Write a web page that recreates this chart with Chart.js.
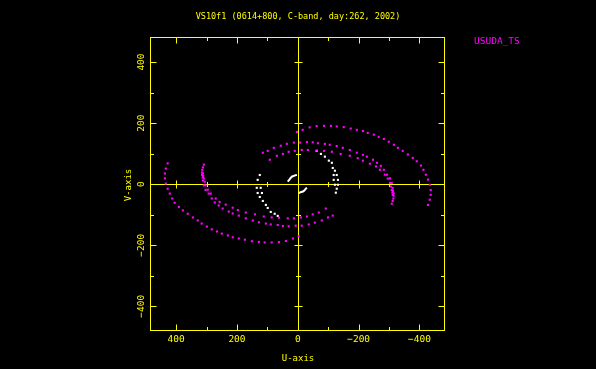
<!DOCTYPE html>
<html>
<head>
<meta charset="utf-8">
<title>VS10f1 uv coverage</title>
<script src="https://cdn.jsdelivr.net/npm/chart.js@4.4.0/dist/chart.umd.min.js"></script>
<style>
  html, body { margin: 0; padding: 0; background: #000; }
  #wrap { width: 596px; height: 369px; }
</style>
</head>
<body>
<div id="wrap"><canvas id="uvChart" width="596" height="369"></canvas></div>
<script>
// ----------------------
// Text + ticks
// ----------------------
const chartTitle = "VS10f1 (0614+800, C-band, day:262, 2002)";
const stationName = "USUDA_TS";
const uLabel = "U-axis";
const vLabel = "V-axis";
const uTicks = [400, 200, 0, -200, -400];
const vTicks = [400, 200, 0, -200, -400];
const tickLabels = ["400", "200", "0", "\u2212200", "\u2212400"];

// ----------------------
// uv tracks, [u, v]
// ----------------------
// outer track, upper right half
const outerTrack = [
  [3,171],[-16,178],[-39,186],[-62,190],[-86,191],[-109,191],[-128,189],[-151,187],
  [-174,182],[-194,178],[-214,174],[-230,168],[-250,162],[-266,155],[-283,148],
  [-299,139],[-316,129],[-329,119],[-345,109],[-362,97],[-378,86],[-391,75],
  [-405,61],[-413,47],[-421,31],[-428,15],[-434,-2],[-437,-19],[-437,-35],
  [-434,-51],[-428,-68]
];
// outer track, lower left half
const outerTrackConj = [
  [-3,-171],[16,-178],[39,-186],[62,-190],[86,-191],[109,-191],[128,-189],[151,-187],
  [174,-182],[194,-178],[214,-174],[230,-168],[250,-162],[266,-155],[283,-148],
  [299,-139],[316,-129],[329,-119],[345,-109],[362,-97],[378,-86],[391,-75],
  [405,-61],[413,-47],[421,-31],[428,-15],[434,2],[437,19],[437,35],
  [434,51],[428,68]
];
// middle track, upper
const midTrack = [
  [115,103],[99,109],[79,119],[56,126],[36,132],[13,136],[-7,136],[-30,138],
  [-49,137],[-66,134],[-89,132],[-105,129],[-128,125],[-148,119],[-171,112],
  [-194,103],[-214,96],[-227,90],[-247,80],[-260,70],[-273,60],[-283,47],
  [-293,31],[-303,19],[-309,4],[-312,-12],[-313,-22],[-315,-30],[-315,-38],
  [-314,-47],[-312,-55],[-309,-64]
];
// middle track, lower
const midTrackConj = [
  [-115,-103],[-99,-109],[-79,-119],[-56,-126],[-36,-132],[-13,-136],[7,-136],[30,-138],
  [49,-137],[66,-134],[89,-132],[105,-129],[128,-125],[148,-119],[171,-112],
  [194,-103],[214,-96],[227,-90],[247,-80],[260,-70],[273,-60],[283,-47],
  [293,-31],[303,-19],[309,-4],[312,12],[313,22],[315,30],[315,38],
  [314,47],[312,55],[309,64]
];
// inner magenta track, upper
const innerTrack = [
  [92,80],[69,93],[49,99],[30,106],[10,109],[-13,112],[-33,112],[-62,110],
  [-86,109],[-112,106],[-141,99],[-171,93],[-197,85],[-214,77],[-237,67],
  [-257,58],[-270,47],[-286,31],[-296,18],[-303,4],[-306,-8],[-309,-19],
  [-311,-27],[-312,-35]
];
// inner magenta track, lower
const innerTrackConj = [
  [-92,-80],[-69,-93],[-49,-99],[-30,-106],[-10,-109],[13,-112],[33,-112],[62,-110],
  [86,-109],[112,-106],[141,-99],[171,-93],[197,-85],[214,-77],[237,-67],
  [257,-58],[270,-47],[286,-31],[296,-18],[303,-4],[306,8],[309,19],
  [311,27],[312,35]
];
// short white tracks
const whiteRight = [
  [-62,109],[-76,99],[-89,90],[-102,77],[-112,70],[-115,53],[-122,44],[-118,30],
  [-128,30],[-118,14],[-132,14],[-122,-2],[-132,-2],[-128,-15],[-125,-28]
];
const whiteLeft = [
  [125,30],[132,14],[135,-12],[122,-12],[132,-29],[118,-29],[125,-42],[115,-55],
  [105,-68],[99,-78],[89,-91],[76,-97],[66,-104]
];
const whiteCoreA = [[33,8],[29,13],[26,17],[23,21],[20,24],[16,26],[13,27],[8,29],[3,30]];
const whiteCoreB = [[-3,-29],[-8,-27],[-13,-25],[-17,-24],[-20,-22],[-24,-18],[-26,-15],[-30,-12]];

const magenta = "#ff00ff";
const yellow = "#ffff00";
const mono = "'DejaVu Sans Mono', monospace";

function pts(track) {
  return track.map(([u, v]) => ({ x: u, y: v }));
}

function dots(track, color) {
  return {
    data: pts(track),
    backgroundColor: color,
    borderWidth: 0,
    pointStyle: "rect",
    pointRadius: 1.5,
    showLine: false
  };
}

function strip(track) {
  return {
    data: pts(track),
    type: "line",
    borderColor: "#ffffff",
    borderWidth: 2,
    pointRadius: 0,
    tension: 0.3,
    fill: false
  };
}

// ----------------------
// Frame, ticks, zero lines and text
// ----------------------
const framePlugin = {
  id: "frame",
  beforeDraw(chart) {
    const { ctx, width, height } = chart;
    ctx.save();
    ctx.fillStyle = "#000";
    ctx.fillRect(0, 0, width, height);
    ctx.restore();
  },
  beforeDatasetsDraw(chart) {
    const { ctx, chartArea: a, scales } = chart;
    const x0 = Math.round(scales.x.getPixelForValue(0)) + 0.5;
    const y0 = Math.round(scales.y.getPixelForValue(0)) + 0.5;
    ctx.save();
    ctx.strokeStyle = yellow;
    ctx.lineWidth = 1;
    ctx.beginPath();
    ctx.moveTo(a.left, y0); ctx.lineTo(a.right, y0);
    ctx.moveTo(x0, a.top); ctx.lineTo(x0, a.bottom);
    for (let t = -400; t <= 400; t += 100) {
      if (t === 0) continue;
      const len = t % 200 === 0 ? 4 : 2.5;
      const px = Math.round(scales.x.getPixelForValue(t)) + 0.5;
      const py = Math.round(scales.y.getPixelForValue(t)) + 0.5;
      ctx.moveTo(px, y0 - len); ctx.lineTo(px, y0 + len);
      ctx.moveTo(x0 - len, py); ctx.lineTo(x0 + len, py);
    }
    ctx.stroke();
    ctx.restore();
  },
  afterDatasetsDraw(chart) {
    const { ctx, chartArea: a, scales } = chart;
    const L = a.left + 0.5, R = a.right - 0.5, T = a.top + 0.5, B = a.bottom - 0.5;
    ctx.save();
    ctx.strokeStyle = yellow;
    ctx.lineWidth = 1;
    ctx.strokeRect(L, T, R - L, B - T);
    ctx.beginPath();
    for (let t = -400; t <= 400; t += 100) {
      const len = t % 200 === 0 ? 6 : 3.5;
      const px = Math.round(scales.x.getPixelForValue(t)) + 0.5;
      const py = Math.round(scales.y.getPixelForValue(t)) + 0.5;
      ctx.moveTo(px, B); ctx.lineTo(px, B - len);
      ctx.moveTo(px, T); ctx.lineTo(px, T + len);
      ctx.moveTo(L, py); ctx.lineTo(L + len, py);
      ctx.moveTo(R, py); ctx.lineTo(R - len, py);
    }
    ctx.stroke();

    // text
    ctx.fillStyle = yellow;
    ctx.textAlign = "center";
    ctx.textBaseline = "middle";
    ctx.font = "8.5px " + mono;
    ctx.fillText(chartTitle, 298, 17);

    ctx.font = "9.5px " + mono;
    uTicks.forEach((t, i) => {
      ctx.fillText(tickLabels[i], scales.x.getPixelForValue(t), 340);
    });
    vTicks.forEach((t, i) => {
      ctx.save();
      ctx.translate(141.5, scales.y.getPixelForValue(t));
      ctx.rotate(-Math.PI / 2);
      ctx.fillText(tickLabels[i], 0, 0);
      ctx.restore();
    });

    ctx.font = "9px " + mono;
    ctx.fillText(uLabel, 298, 359);
    ctx.save();
    ctx.translate(128.5, 185);
    ctx.rotate(-Math.PI / 2);
    ctx.fillText(vLabel, 0, 0);
    ctx.restore();

    ctx.fillStyle = magenta;
    ctx.textAlign = "left";
    ctx.font = "9.5px " + mono;
    ctx.fillText(stationName, 474, 42);
    ctx.restore();
  }
};

// ----------------------
// Chart
// ----------------------
new Chart(document.getElementById("uvChart"), {
  type: "scatter",
  data: {
    datasets: [
      dots(outerTrack, magenta),
      dots(outerTrackConj, magenta),
      dots(midTrack, magenta),
      dots(midTrackConj, magenta),
      dots(innerTrack, magenta),
      dots(innerTrackConj, magenta),
      dots(whiteRight, "#ffffff"),
      dots(whiteLeft, "#ffffff"),
      strip(whiteCoreA),
      strip(whiteCoreB)
    ]
  },
  options: {
    responsive: false,
    animation: false,
    events: [],
    layout: { padding: { top: 37, right: 151, left: 0, bottom: 0 } },
    plugins: {
      legend: { display: false },
      tooltip: { enabled: false }
    },
    scales: {
      x: {
        type: "linear",
        min: -484,
        max: 486,
        reverse: true,
        ticks: { display: false },
        grid: { display: false },
        border: { display: false },
        afterFit: s => { s.height = 38; }
      },
      y: {
        type: "linear",
        min: -481,
        max: 482,
        ticks: { display: false },
        grid: { display: false },
        border: { display: false },
        afterFit: s => { s.width = 150; }
      }
    }
  },
  plugins: [framePlugin]
});
</script>
</body>
</html>
